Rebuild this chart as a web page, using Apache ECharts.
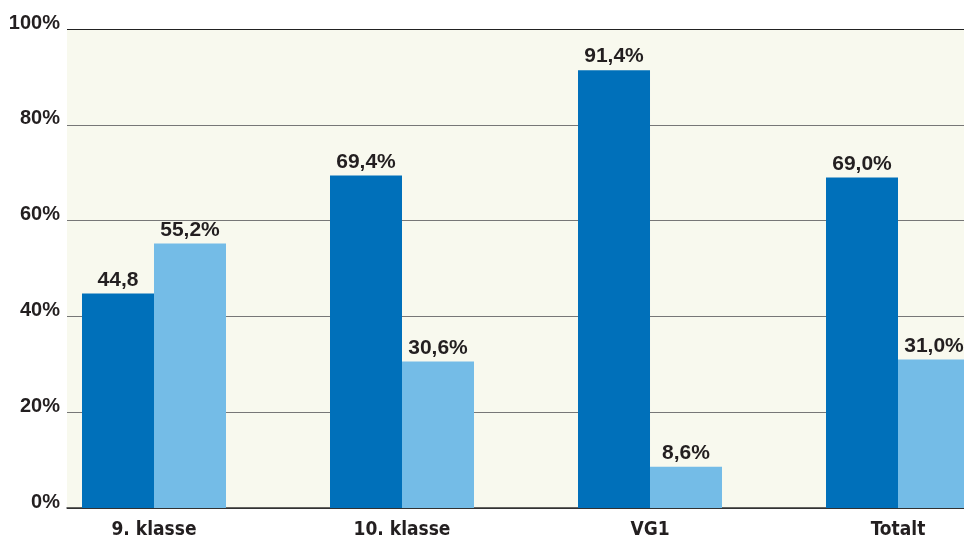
<!DOCTYPE html>
<html>
<head>
<meta charset="utf-8">
<script src="https://cdn.jsdelivr.net/npm/echarts@6/dist/echarts.min.js"></script>
<style>
  html, body { margin: 0; padding: 0; background: #fff; }
  #chart { width: 964px; height: 543px; }
</style>
</head>
<body>
<div id="chart"></div>
<script>
  const categories = ['9. klasse', '10. klasse', 'VG1', 'Totalt']
  const darkValues = [44.8, 69.4, 91.4, 69.0]
  const lightValues = [55.2, 30.6, 8.6, 31.0]
  const darkLabels = ['44,8', '69,4%', '91,4%', '69,0%']
  const lightLabels = ['55,2%', '30,6%', '8,6%', '31,0%']
  const yTicks = [0, 20, 40, 60, 80, 100]

  const numFont = "'Liberation Sans', Arial, sans-serif"
  const narrowFont = "'Liberation Sans Narrow', 'DejaVu Sans Condensed', sans-serif"

  let chart = echarts.init(document.getElementById('chart'))

  let barLabel = (labels) => ({
    show: true,
    position: 'top',
    distance: 3,
    color: '#231f20',
    fontFamily: numFont,
    fontWeight: 'bold',
    fontSize: 21,
    formatter: (p) => labels[p.dataIndex]
  })

  let option = {
    animation: false,
    grid: {
      left: 67, right: 0, top: 29, bottom: 35,
      show: true,
      backgroundColor: '#f8f9ee',
      borderWidth: 0
    },
    xAxis: {
      type: 'value',
      min: -0.3508,
      max: 3.2661,
      splitLine: { show: false },
      axisTick: { show: false },
      axisLine: { show: true, onZero: false, lineStyle: { color: '#333', width: 1.5 } },
      axisLabel: {
        customValues: [0, 1, 2, 3],
        formatter: (v) => categories[Math.round(v)] || '',
        color: '#231f20',
        fontFamily: narrowFont,
        fontWeight: 'bold',
        fontSize: 19,
        margin: 13
      }
    },
    yAxis: {
      type: 'value',
      min: yTicks[0],
      max: yTicks[yTicks.length - 1],
      interval: 20,
      axisLine: { show: false },
      axisTick: { show: false },
      splitLine: {
        show: true,
        lineStyle: { color: ['#333', '#777', '#777', '#777', '#777', '#222'], width: 1.2 }
      },
      axisLabel: {
        formatter: '{value}%',
        color: '#231f20',
        fontFamily: numFont,
        fontWeight: 'bold',
        fontSize: 20,
        margin: 7,
        verticalAlign: 'bottom',
        lineHeight: 12
      }
    },
    series: [
      {
        name: 'dark',
        type: 'bar',
        barWidth: 72,
        barGap: '0%',
        itemStyle: { color: '#0070ba' },
        label: barLabel(darkLabels),
        data: darkValues.map((v, i) => [i, v])
      },
      {
        name: 'light',
        type: 'bar',
        barWidth: 72,
        barGap: '0%',
        itemStyle: { color: '#74bce7' },
        label: barLabel(lightLabels),
        data: lightValues.map((v, i) => [i, v])
      }
    ]
  }
  chart.setOption(option)
</script>
</body>
</html>
